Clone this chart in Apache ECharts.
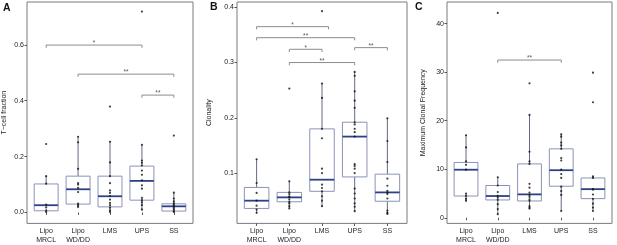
<!DOCTYPE html>
<html>
<head>
<meta charset="utf-8">
<script src="https://cdn.jsdelivr.net/npm/echarts@6/dist/echarts.min.js"></script>
<style>
  html, body { margin: 0; padding: 0; background: #fff; }
  #chart { width: 617px; height: 245px; }
</style>
</head>
<body>
<div id="chart"></div>
<script>
const categories = ['Lipo\nMRCL', 'Lipo\nWD/DD', 'LMS', 'UPS', 'SS']

// A: T-cell fraction, box stats [low, q1, median, q3, high]
const tcellBoxes = [
  [0.002, 0.006, 0.026, 0.102, 0.130],
  [0.019, 0.030, 0.083, 0.130, 0.271],
  [0.002, 0.020, 0.058, 0.130, 0.255],
  [0.006, 0.044, 0.113, 0.166, 0.242],
  [0.002, 0.005, 0.022, 0.031, 0.071]
]
const tcellPoints = [
  [0.245, 0.130, 0.103, 0.028, 0.018, 0.008, 0.002],
  [0.271, 0.251, 0.156, 0.105, 0.100, 0.088, 0.073, 0.032, 0.026, 0.020],
  [0.379, 0.253, 0.179, 0.130, 0.105, 0.079, 0.070, 0.059, 0.046, 0.034, 0.026, 0.017, 0.008, 0.002],
  [0.719, 0.242, 0.186, 0.178, 0.168, 0.150, 0.135, 0.115, 0.097, 0.085, 0.052, 0.044, 0.036, 0.026, 0.011],
  [0.275, 0.071, 0.050, 0.040, 0.033, 0.028, 0.024, 0.020, 0.015, 0.010, 0.005, 0.002]
]
const tcellBrackets = [[1, 4, 0.599, '*'], [2, 5, 0.495, '**'], [4, 5, 0.420, '**']]
const tcellTicks = [0, 0.2, 0.4, 0.6]

// B: Clonality
const clonBoxes = [
  [0.028, 0.036, 0.050, 0.074, 0.125],
  [0.036, 0.048, 0.056, 0.065, 0.085],
  [0.040, 0.067, 0.088, 0.180, 0.262],
  [0.031, 0.093, 0.166, 0.192, 0.283],
  [0.026, 0.049, 0.065, 0.098, 0.199]
]
const clonPoints = [
  [0.125, 0.082, 0.064, 0.050, 0.041, 0.034, 0.028],
  [0.253, 0.085, 0.065, 0.062, 0.058, 0.056, 0.052, 0.048, 0.045, 0.040, 0.036],
  [0.393, 0.262, 0.236, 0.180, 0.163, 0.108, 0.100, 0.079, 0.073, 0.067, 0.058, 0.050, 0.040],
  [0.283, 0.276, 0.248, 0.231, 0.218, 0.192, 0.188, 0.180, 0.174, 0.166, 0.116, 0.113, 0.108, 0.100, 0.072, 0.063, 0.054, 0.045, 0.039, 0.031],
  [0.199, 0.158, 0.120, 0.090, 0.077, 0.068, 0.065, 0.062, 0.054, 0.032, 0.028, 0.026]
]
const clonBrackets = [[1, 3.2, 0.365, '*'], [1, 4, 0.345, '**'], [2, 3, 0.324, '*'], [4, 5, 0.327, '**'], [2, 4, 0.300, '**']]
const clonTicks = [0.1, 0.2, 0.3, 0.4]

// C: Maximum Clonal Frequency
const freqBoxes = [
  [3.5, 4.48, 9.9, 11.4, 17.0],
  [0.75, 3.67, 4.48, 6.65, 8.35],
  [1.9, 3.46, 4.82, 11.1, 21.2],
  [1.36, 6.5, 9.8, 14.2, 17.2],
  [1.43, 3.94, 5.9, 8.2, 8.55]
]
const freqPoints = [
  [17.0, 14.5, 11.6, 10.9, 9.9, 4.96, 4.5, 3.9, 3.5],
  [42.2, 8.35, 6.65, 5.3, 4.5, 4.1, 3.7, 2.8, 1.8, 0.75],
  [27.7, 21.2, 13.6, 11.6, 11.1, 7.0, 6.2, 5.2, 4.7, 4.3, 3.8, 3.5, 2.4, 2.1, 1.9],
  [17.2, 16.7, 15.5, 14.9, 14.2, 12.3, 11.8, 9.9, 9.0, 8.2, 6.4, 5.5, 4.7, 1.4],
  [29.9, 23.8, 8.55, 8.2, 5.9, 5.8, 4.8, 3.9, 2.9, 2.1, 1.4]
]
const freqBrackets = [[2, 4, 32.5, '**']]
const freqTicks = [0, 10, 20, 30, 40]

const FONT = 'Liberation Sans, Arial, sans-serif'
const catPos = [1, 2, 3, 4, 5]

const panels = [
  { letter: 'A', name: 'T\u2212cell fraction', boxes: tcellBoxes, points: tcellPoints, brackets: tcellBrackets,
    ticks: tcellTicks, fmt: v => v.toFixed(1), min: -0.0391, max: 0.7531,
    grid: { left: 25, top: 2, width: 168, height: 223 }, nameGap: 19, letterPos: [3, 3] },
  { letter: 'B', name: 'Clonality', boxes: clonBoxes, points: clonPoints, brackets: clonBrackets,
    ticks: clonTicks, fmt: v => v.toFixed(1), min: 0.0089, max: 0.4096,
    grid: { left: 237, top: 2, width: 170, height: 222 }, nameGap: 24, letterPos: [210, 2] },
  { letter: 'C', name: 'Maximum Clonal Frequency', boxes: freqBoxes, points: freqPoints, brackets: freqBrackets,
    ticks: freqTicks, fmt: v => String(v), min: -1.16, max: 44.46,
    grid: { left: 447, top: 2, width: 165, height: 224 }, nameGap: 20, letterPos: [415, 2] }
]

const grids = []
const xAxes = []
const yAxes = []
const series = []
const graphics = []

panels.forEach((p, k) => {
  grids.push(Object.assign({ show: true, borderColor: '#7a7a7a', borderWidth: 1, backgroundColor: '#fff' }, p.grid))
  xAxes.push({
    type: 'value', gridIndex: k, min: 0.4, max: 5.6,
    axisLine: { show: false },
    splitLine: { show: false },
    axisTick: { show: true, customValues: catPos, length: 2.5, lineStyle: { color: '#555' } },
    axisLabel: {
      customValues: catPos, margin: 3, fontSize: 7, lineHeight: 9.3, color: '#222', fontFamily: FONT,
      formatter: v => categories[Math.round(v) - 1]
    }
  })
  yAxes.push({
    type: 'value', gridIndex: k, min: p.min, max: p.max,
    name: p.name, nameLocation: 'middle', nameGap: p.nameGap,
    nameTextStyle: { fontSize: 7, color: '#222', fontFamily: FONT },
    axisLine: { show: false },
    splitLine: { show: false },
    axisTick: { show: true, customValues: p.ticks, length: 2.5, lineStyle: { color: '#555' } },
    axisLabel: { customValues: p.ticks, margin: 3, fontSize: 7, color: '#222', fontFamily: FONT, formatter: p.fmt }
  })

  // boxes
  series.push({
    type: 'custom', xAxisIndex: k, yAxisIndex: k, z: 2,
    data: p.boxes.map((b, i) => [i + 1].concat(b)),
    renderItem(params, api) {
      const x = api.value(0)
      const lo = api.coord([x, api.value(1)])
      const q1 = api.coord([x, api.value(2)])
      const med = api.coord([x, api.value(3)])
      const q3 = api.coord([x, api.value(4)])
      const hi = api.coord([x, api.value(5)])
      const half = api.size([0.75, 0])[0] / 2
      const whisker = { stroke: '#3d425e', lineWidth: 0.8 }
      return {
        type: 'group',
        children: [
          { type: 'line', shape: { x1: hi[0], y1: hi[1], x2: q3[0], y2: q3[1] }, style: whisker },
          { type: 'line', shape: { x1: q1[0], y1: q1[1], x2: lo[0], y2: lo[1] }, style: whisker },
          { type: 'rect', shape: { x: q3[0] - half, y: q3[1], width: half * 2, height: q1[1] - q3[1] },
            style: { fill: '#fff', stroke: '#8a93b8', lineWidth: 1 } },
          { type: 'line', shape: { x1: med[0] - half, y1: med[1], x2: med[0] + half, y2: med[1] },
            style: { stroke: '#2e4187', lineWidth: 1.8 } }
        ]
      }
    }
  })

  // points
  const pts = []
  p.points.forEach((arr, i) => arr.forEach(v => pts.push([i + 1, v])))
  series.push({
    type: 'scatter', xAxisIndex: k, yAxisIndex: k, z: 3,
    symbolSize: 2.2, itemStyle: { color: '#111' },
    data: pts
  })

  // significance brackets
  series.push({
    type: 'custom', xAxisIndex: k, yAxisIndex: k, z: 4,
    data: p.brackets.map(b => [b[0], b[1], b[2]]),
    renderItem(params, api) {
      const a = api.coord([api.value(0), api.value(2)])
      const b = api.coord([api.value(1), api.value(2)])
      const label = p.brackets[params.dataIndex][3]
      return {
        type: 'group',
        children: [
          { type: 'polyline', shape: { points: [[a[0], a[1] + 2.7], a, b, [b[0], b[1] + 2.7]] },
            style: { stroke: '#8c8c8c', lineWidth: 1, fill: null } },
          { type: 'text', x: (a[0] + b[0]) / 2, y: a[1] - 1.5,
            style: { text: label, fontSize: 6.5, fill: '#555', align: 'center', verticalAlign: 'middle', fontFamily: FONT } }
        ]
      }
    }
  })

  graphics.push({
    type: 'text', left: p.letterPos[0], top: p.letterPos[1],
    style: { text: p.letter, fontSize: 10.5, fontWeight: 'bold', fill: '#111', fontFamily: FONT }
  })
})

const option = {
  animation: false,
  backgroundColor: '#fff',
  grid: grids,
  xAxis: xAxes,
  yAxis: yAxes,
  series: series,
  graphic: graphics
}

const chart = echarts.init(document.getElementById('chart'))
chart.setOption(option)
</script>
</body>
</html>
